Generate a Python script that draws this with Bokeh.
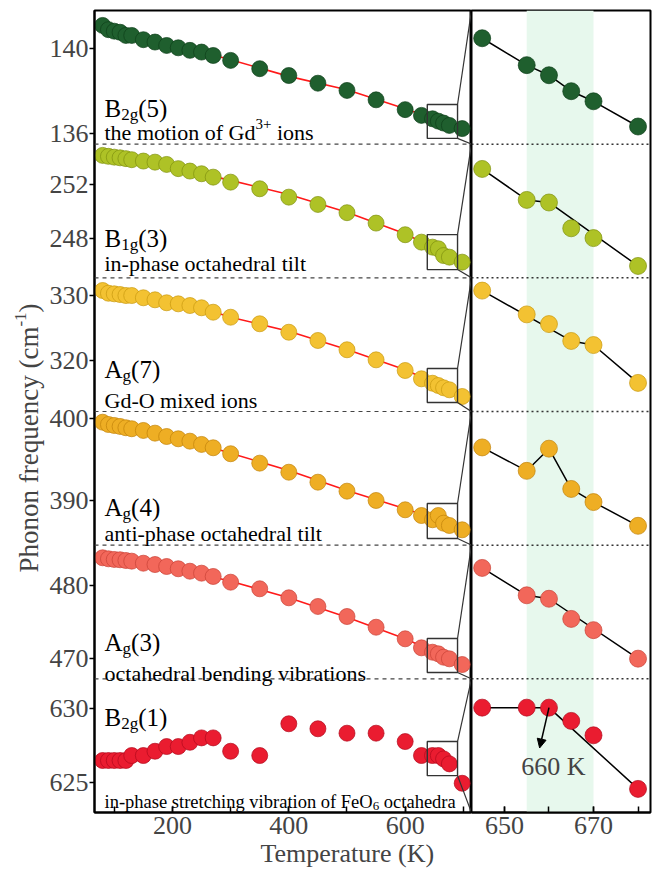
import math
from bokeh.plotting import figure
from bokeh.models import (Range1d, FixedTicker, Span, Label, BoxAnnotation,
                          Arrow, NormalHead, Title)
from bokeh.layouts import row
from bokeh.embed import file_html
from bokeh.resources import INLINE

FONT = "Liberation Serif"

# ---------------- data ----------------
T_main = [80, 90, 100, 110, 120, 130, 150, 170, 190, 210, 230, 250, 270, 300,
          350, 400, 450, 500, 550, 600, 628, 647, 657, 666, 676, 698]

b2g5 = [141.08, 140.88, 140.81, 140.76, 140.61, 140.61, 140.41, 140.30, 140.14,
        140.03, 139.91, 139.83, 139.67, 139.44, 139.05, 138.73, 138.37, 138.03,
        137.59, 137.13, 136.86, 136.70, 136.59, 136.50, 136.39, 136.24]
b1g3 = [254.17, 254.10, 254.04, 253.99, 253.93, 253.85, 253.75, 253.67, 253.50,
        253.19, 253.01, 252.81, 252.56, 252.19, 251.70, 251.08, 250.54, 249.93,
        249.16, 248.30, 247.75, 247.38, 247.26, 246.76, 246.64, 246.27]
ag7 = [330.77, 330.35, 330.26, 330.15, 330.00, 330.00, 329.65, 329.34, 328.88,
       328.72, 328.46, 328.11, 327.43, 326.66, 325.65, 324.35, 323.08, 321.65,
       320.10, 318.46, 317.18, 316.50, 316.15, 315.80, 315.49, 314.46]
ag4 = [399.58, 399.30, 399.18, 399.06, 398.90, 398.78, 398.57, 398.24, 397.83,
       397.55, 397.26, 396.86, 396.45, 395.72, 394.57, 393.46, 392.24, 391.14,
       390.00, 388.86, 388.16, 387.64, 388.16, 387.22, 386.94, 386.41]
ag3 = [483.78, 483.64, 483.55, 483.51, 483.41, 483.32, 483.04, 482.86, 482.59,
       482.28, 481.95, 481.68, 481.23, 480.45, 479.55, 478.32, 477.14, 475.77,
       474.31, 472.73, 471.50, 470.90, 470.68, 470.22, 470.00, 469.22]
b2g1 = [626.48, 626.48, 626.48, 626.48, 626.48, 626.82, 626.82, 627.11, 627.43,
        627.43, 627.72, 628.02, 628.02, 627.11, 626.82, 628.98, 628.64, 628.34,
        628.34, 627.77, 626.82, 626.82, 626.82, 626.59, 626.25, 624.93]

T_fit = [80, 200, 300, 400, 500, 600, 698]
fit_b2g5 = [140.88, 140.22, 139.47, 138.69, 138.06, 137.17, 136.25]
fit_b1g3 = [254.10, 253.30, 252.32, 251.28, 249.97, 248.37, 246.27]
fit_ag7 = [330.51, 329.50, 326.66, 324.51, 321.69, 318.57, 314.62]
fit_ag4 = [399.46, 397.96, 395.79, 393.67, 391.22, 388.98, 386.66]
fit_ag3 = [483.64, 482.50, 480.59, 478.32, 475.68, 472.73, 469.22]

T_zoom = [645, 655, 660, 665, 670, 680]
zoom_b2g5 = [137.04, 136.72, 136.60, 136.41, 136.29, 135.99]
zoom_b1g3 = [247.83, 247.23, 247.18, 246.68, 246.49, 245.95]
zoom_ag7 = [318.27, 317.34, 316.96, 316.30, 316.14, 314.66]
zoom_ag4 = [388.48, 387.73, 388.44, 387.15, 386.73, 385.97]
zoom_ag3 = [471.98, 471.03, 470.91, 470.21, 469.82, 468.83]
zoom_b2g1 = [627.27, 627.27, 627.27, 627.04, 626.79, 625.86]
guide_idx = [[0, 1, 2, 3, 4, 5], [0, 1, 2, 5], [0, 3, 4, 5],
             [0, 1, 2, 3, 4, 5], [0, 1, 2, 5], [0, 2, 5]]

panel_lo = [135.51, 245.11, 312.15, 384.53, 467.27, 622.94]
panel_hi = [141.78, 255.00, 332.72, 400.89, 485.50, 632.04]
tick_vals = [[136, 140], [248, 252], [320, 330], [390, 400], [470, 480], [625, 630]]
box_T = [638, 690]
box_lo = [135.78, 245.72, 313.54, 385.35, 468.13, 625.45]
box_hi = [137.37, 248.31, 318.77, 389.63, 472.77, 627.77]
x_main = [66, 714]
x_zoom = [642.6, 682.8]
band_T = [655, 670]
arrow_tip = [657.9, 626.57]
label_660 = [661, 626.24]

series = [b2g5, b1g3, ag7, ag4, ag3, b2g1]
fits = [fit_b2g5, fit_b1g3, fit_ag7, fit_ag4, fit_ag3, None]
zooms = [zoom_b2g5, zoom_b1g3, zoom_ag7, zoom_ag4, zoom_ag3, zoom_b2g1]

colors = ["#1F5F2E", "#AEC226", "#F3C232", "#EEAE24", "#F2675A", "#EA1C30"]
edges = ["#0E3F1A", "#7F9010", "#C99A10", "#C2820A", "#C84236", "#B00A1C"]

mode_labels = [
    [("B", 25, 0), ("2g", 17, -6), ("(5)", 25, 0)],
    [("B", 25, 0), ("1g", 17, -6), ("(3)", 25, 0)],
    [("A", 25, 0), ("g", 17, -6), ("(7)", 25, 0)],
    [("A", 25, 0), ("g", 17, -6), ("(4)", 25, 0)],
    [("A", 25, 0), ("g", 17, -6), ("(3)", 25, 0)],
    [("B", 25, 0), ("2g", 17, -6), ("(1)", 25, 0)],
]
desc_labels = [
    [("the motion of Gd", 22, 0), ("3+", 15, 9), (" ions", 22, 0)],
    [("in-phase octahedral tilt", 22, 0)],
    [("Gd-O mixed ions", 22, 0)],
    [("anti-phase octahedral tilt", 22, 0)],
    [("octahedral bending vibrations", 22, 0)],
    [("in-phase stretching vibration of FeO", 18.5, 0), ("6", 13, -4),
     (" octahedra", 18.5, 0)],
]
# baselines (px above frame bottom)
mode_y = [704, 574, 443, 305, 170, 95]
desc_y = [680, 549, 412, 279, 139, 11]

W = {' ': 250, '(': 333, ')': 333, '+': 564, '-': 333, 'A': 722, 'B': 667,
     'F': 556, 'G': 722, 'K': 722, 'O': 722, 'P': 556, 'T': 611, 'a': 444,
     'b': 500, 'c': 444, 'd': 500, 'e': 444, 'f': 333, 'g': 500, 'h': 500,
     'i': 278, 'l': 278, 'm': 778, 'n': 500, 'o': 500, 'p': 500, 'q': 500,
     'r': 333, 's': 389, 't': 278, 'u': 500, 'v': 500, 'x': 500, 'y': 500}


def tw(s, size):
    return sum(W.get(c, 500) for c in s) / 1000.0 * size


def rich(fig, x0, y0, pieces):
    x = x0
    for text, size, dy in pieces:
        lead = len(text) - len(text.lstrip(' '))
        x += tw(' ' * lead, size)
        t = text.strip(' ')
        fig.add_layout(Label(x=x, y=y0 + dy, x_units='screen', y_units='screen',
                             text=t, text_font=FONT, text_font_size=f"{size}px",
                             text_color='black', text_baseline='alphabetic',
                             text_align='left'))
        x += tw(t, size)


def slot_range(k, lo, hi):
    h = hi - lo
    return Range1d(start=lo - (5 - k) * h, end=hi + k * h)


H = 869
common = dict(height=H, output_backend="svg", toolbar_location=None,
              min_border_top=10, min_border_bottom=57, y_range=Range1d(0, 6))

# ---------------- main panel ----------------
p = figure(width=425, x_range=Range1d(*x_main), min_border_left=46,
           min_border_right=0, **common)
p.grid.visible = False
p.outline_line_color = "black"
p.outline_line_width = 2
p.extra_y_ranges = {f"p{k}": slot_range(k, panel_lo[k], panel_hi[k]) for k in range(6)}

xa = p.xaxis[0]
xa.ticker = FixedTicker(ticks=[200, 400, 600], minor_ticks=[100, 200, 300, 400, 500, 600, 700])
xa.major_tick_in = 6
xa.major_tick_out = 0
xa.minor_tick_in = 6
xa.minor_tick_out = 0
xa.axis_line_width = 2
xa.major_tick_line_width = 1.5
xa.minor_tick_line_width = 1.5
xa.major_label_text_font = FONT
xa.major_label_text_font_size = "26px"
xa.major_label_standoff = 4

p.add_layout(Title(text="Temperature (K)", text_font=FONT, text_font_size="26px",
                   text_font_style="normal", align="left", offset=166,
                   standoff=0), "below")

tick_pos, overrides = [], {}
for k in range(6):
    for v in tick_vals[k]:
        pos = round((5 - k) + (v - panel_lo[k]) / (panel_hi[k] - panel_lo[k]), 6)
        tick_pos.append(pos)
        overrides[pos] = str(v)
ya = p.yaxis[0]
ya.ticker = FixedTicker(ticks=tick_pos, minor_ticks=[])
ya.major_label_overrides = overrides
ya.major_tick_out = 5
ya.major_tick_in = 0
ya.minor_tick_out = 0
ya.minor_tick_in = 0
ya.axis_line_width = 2
ya.major_tick_line_width = 1.5
ya.major_label_text_font = FONT
ya.major_label_text_font_size = "26px"
ya.major_label_standoff = 1

for k in range(1, 6):
    p.add_layout(Span(location=k, dimension='width', line_color='#444444',
                      line_dash='4 4', line_width=1.2))

for k in range(6):
    name = f"p{k}"
    if fits[k] is not None:
        p.line(T_fit, fits[k], y_range_name=name, line_color="#FF1A1A", line_width=1.6)
    p.scatter(T_main, series[k], y_range_name=name, size=16, fill_color=colors[k],
              line_color=edges[k], line_width=0.7)
    p.quad(left=[box_T[0]], right=[box_T[1]], bottom=[box_lo[k]], top=[box_hi[k]],
           y_range_name=name, fill_color=None, line_color="#333333", line_width=1.4)
    p.segment(x0=[box_T[1], box_T[1]], y0=[box_hi[k], box_lo[k]],
              x1=[x_main[1], x_main[1]], y1=[panel_hi[k], panel_lo[k]],
              y_range_name=name, line_color="#333333", line_width=1.2)
    rich(p, 10, mode_y[k], mode_labels[k])
    rich(p, 10, desc_y[k], desc_labels[k])

# ---------------- zoom panel ----------------
q = figure(width=187, x_range=Range1d(*x_zoom), min_border_left=0,
           min_border_right=8, y_axis_location=None, **common)
q.grid.visible = False
q.outline_line_color = "black"
q.outline_line_width = 2
q.extra_y_ranges = {f"z{k}": slot_range(k, box_lo[k], box_hi[k]) for k in range(6)}

qa = q.xaxis[0]
qa.ticker = FixedTicker(ticks=[650, 670], minor_ticks=[650, 660, 670, 680])
qa.major_tick_in = 6
qa.major_tick_out = 0
qa.minor_tick_in = 6
qa.minor_tick_out = 0
qa.axis_line_width = 2
qa.major_tick_line_width = 1.5
qa.minor_tick_line_width = 1.5
qa.major_label_text_font = FONT
qa.major_label_text_font_size = "26px"
qa.major_label_standoff = 4

q.add_layout(BoxAnnotation(left=band_T[0], right=band_T[1], fill_color="#E7F8ED",
                           fill_alpha=1.0, line_color=None, level='underlay'))
for k in range(1, 6):
    q.add_layout(Span(location=k, dimension='width', line_color='#333333',
                      line_dash='2 3', line_width=1.5))

for k in range(6):
    name = f"z{k}"
    gx = [T_zoom[i] for i in guide_idx[k]]
    gy = [zooms[k][i] for i in guide_idx[k]]
    q.line(gx, gy, y_range_name=name, line_color="black", line_width=1.5)
    q.scatter(T_zoom, zooms[k], y_range_name=name, size=17, fill_color=colors[k],
              line_color=edges[k], line_width=0.7)

q.add_layout(Arrow(end=NormalHead(size=9, fill_color="black", line_color="black"),
                   x_start=T_zoom[2], y_start=zoom_b2g1[2],
                   x_end=arrow_tip[0], y_end=arrow_tip[1],
                   line_width=1.5, y_range_name="z5"))
q.add_layout(Label(x=label_660[0], y=label_660[1], y_range_name="z5", text="660 K",
                   text_font=FONT, text_font_size="26px", text_align='center',
                   text_baseline='middle'))

# ---------------- y-axis title (own narrow canvas, frame aligned with p) ----------
ylab = figure(width=46, height=H, x_range=Range1d(0, 46), y_range=Range1d(57, 859),
              output_backend="svg", toolbar_location=None, x_axis_location=None,
              y_axis_location=None, title=None, min_border_left=0,
              min_border_right=0, min_border_top=10, min_border_bottom=57)
ylab.grid.visible = False
ylab.outline_line_color = None
yy = 297
for text, size, dx in [("Phonon frequency (cm", 27, 0), ("-1", 17, -8), (")", 27, 0)]:
    ylab.add_layout(Label(x=28 + dx, y=yy, text=text, text_font=FONT,
                          text_font_size=f"{size}px", angle=math.pi / 2,
                          text_align='left', text_baseline='middle'))
    yy += tw(text, size)

layout = row(ylab, p, q)
open("out.html", "w").write(file_html(layout, INLINE))
